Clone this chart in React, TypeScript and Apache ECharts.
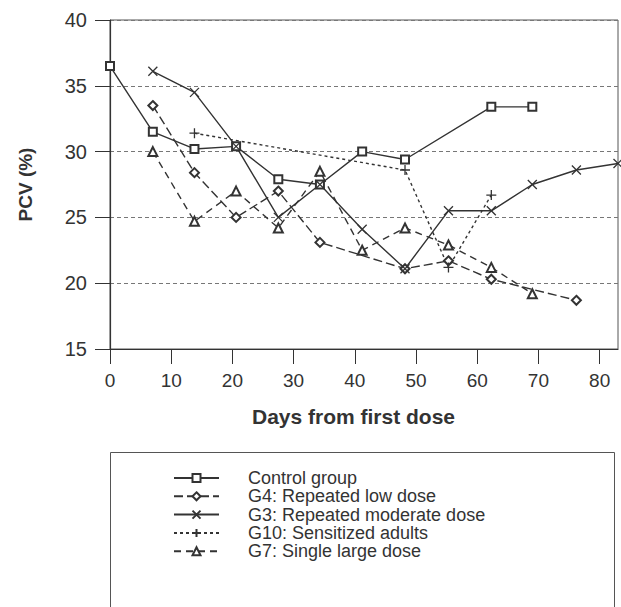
import React, { useEffect, useRef } from "react";
import * as echarts from "echarts";

// Sampling days (x positions)
const days = [0, 7, 13.8, 20.6, 27.5, 34.3, 41.2, 48.2, 55.3, 62.3, 69, 76.2, 83];

const seriesNames = [
  "Control group",
  "G4: Repeated low dose",
  "G3: Repeated moderate dose",
  "G10: Sensitized adults",
  "G7: Single large dose",
];

const controlVals = [36.5, 31.5, 30.2, 30.4, 27.9, 27.5, 30.0, 29.4, null, 33.4, 33.4, null, null];
const g4Vals = [null, 33.5, 28.4, 25.0, 27.0, 23.1, null, 21.1, 21.7, 20.3, null, 18.7, null];
const g3Vals = [null, 36.1, 34.5, 30.4, 25.0, 27.5, 24.1, 21.1, 25.5, 25.5, 27.5, 28.6, 29.1];
const g10Vals = [null, null, 31.4, null, null, null, null, 28.6, 21.2, 26.7, null, null, null];
const g7Vals = [null, 30.0, 24.7, 27.0, 24.2, 28.5, 22.5, 24.2, 22.9, 21.2, 19.2, null, null];

const xTicks = [0, 10, 20, 30, 40, 50, 60, 70, 80];
const yTicks = [15, 20, 25, 30, 35, 40];

const pairs = (vals: (number | null)[]) =>
  days.map((d, i) => [d, vals[i]]).filter((p) => p[1] !== null);

const FONT = "'Liberation Sans', Arial, sans-serif";
const INK = "#333";

export default function App() {
  const ref = useRef<HTMLDivElement>(null);
  useEffect(() => {
    if (!ref.current) return;
    const chart = echarts.init(ref.current, undefined, { renderer: "svg" });
    const lineBase = (name: string, vals: (number | null)[], type: any, symbol: string, size: number) => ({
      name,
      type: "line",
      data: pairs(vals),
      symbol,
      symbolSize: size,
      lineStyle: { color: INK, width: 1.4, type },
      itemStyle: { color: INK, borderColor: INK, borderWidth: 1.3 },
      emphasis: { disabled: true },
    });
    chart.setOption({
      animation: false,
      backgroundColor: "#fff",
      textStyle: { fontFamily: FONT, color: INK },
      grid: {
        left: 110,
        right: 3,
        top: 20,
        bottom: 258,
        show: true,
        borderColor: "#555",
        borderWidth: 1,
      },
      xAxis: {
        type: "value",
        min: 0,
        max: 83,
        interval: 10,
        name: "Days from first dose",
        nameLocation: "middle",
        nameGap: 57,
        nameTextStyle: { fontSize: 21, fontWeight: "bold", color: INK, fontFamily: FONT, padding: [0, 21, 0, 0] },
        axisLine: { lineStyle: { color: INK, width: 1.2 } },
        axisTick: { length: 15, lineStyle: { color: INK }, customValues: xTicks },
        axisLabel: { fontSize: 19, color: INK, margin: 22, customValues: xTicks },
        splitLine: { show: false },
      },
      yAxis: {
        type: "value",
        min: 15,
        max: 40,
        interval: 5,
        name: "PCV (%)",
        nameLocation: "middle",
        nameRotate: 90,
        nameGap: 75,
        nameTextStyle: { fontSize: 19, fontWeight: "bold", color: INK, fontFamily: FONT },
        axisLine: { show: true, lineStyle: { color: INK, width: 1.2 } },
        axisTick: { show: true, length: 15, lineStyle: { color: INK }, customValues: yTicks },
        axisLabel: { fontSize: 20, color: INK, margin: 23, customValues: yTicks },
        splitLine: { show: true, lineStyle: { color: "#777", width: 1, type: [4, 3] } },
      },
      legend: {
        orient: "vertical",
        left: 173,
        top: 469,
        padding: 0,
        itemWidth: 45,
        itemHeight: 10,
        itemGap: 0.3,
        data: seriesNames,
        textStyle: { fontSize: 18, color: INK, fontFamily: FONT, padding: [0, 0, 0, 24] },
        selectedMode: false,
      },
      graphic: [
        {
          type: "rect",
          shape: { x: 110.5, y: 452.5, width: 504, height: 200 },
          style: { fill: "none", stroke: "#555", lineWidth: 1 },
          z: -1,
        },
      ],
      series: [
        lineBase(seriesNames[0], controlVals, "solid", "emptyRect", 8),
        lineBase(seriesNames[1], g4Vals, [9, 4], "emptyDiamond", 9),
        lineBase(seriesNames[2], g3Vals, "solid", "path://M0,0L10,10M10,0L0,10", 9),
        lineBase(seriesNames[3], g10Vals, [3, 3], "path://M5,0L5,10M0,5L10,5", 10),
        lineBase(seriesNames[4], g7Vals, [7, 5], "emptyTriangle", 9),
      ],
    });
    return () => chart.dispose();
  }, []);
  return (
    <div
      ref={ref}
      style={{ position: "fixed", left: 0, top: 0, width: 621, height: 607, background: "#fff" }}
    />
  );
}
